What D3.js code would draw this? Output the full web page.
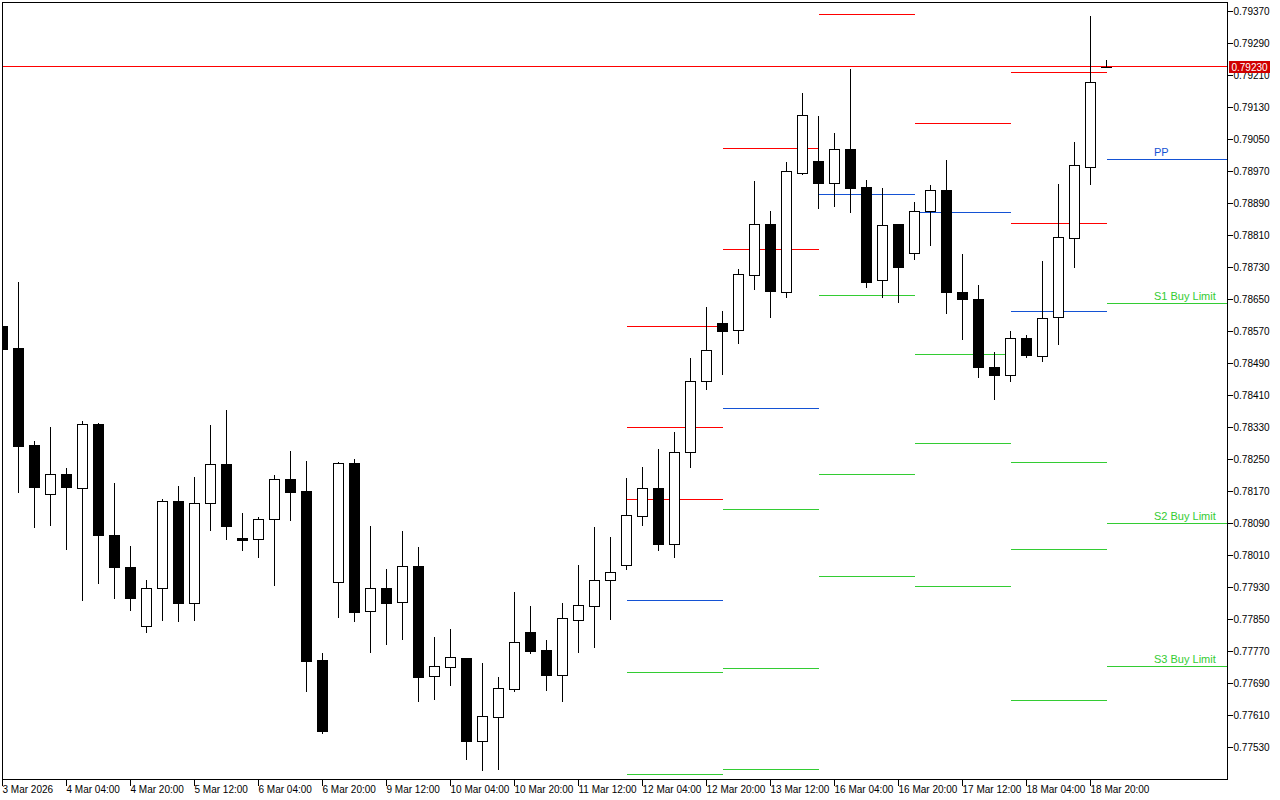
<!DOCTYPE html>
<html><head><meta charset="utf-8">
<script src="https://cdn.jsdelivr.net/npm/d3@7"></script>
<style>
html,body{margin:0;padding:0;background:#fff;}
svg{display:block;}
text{font-family:"Liberation Sans",Arial,sans-serif;}
</style></head>
<body>
<svg id="chart" width="1280" height="800"></svg>
<script>
// ---- DATA (H4 bars, index 0 = 3 Mar 2026 12:00) ----
const openP  = [0.78583,0.78528,0.78285,0.78163,0.78213,0.78178,0.78338,0.78060,0.77980,0.77833,
                0.77928,0.78145,0.77890,0.78140,0.78238,0.78052,0.78050,0.78100,0.78200,0.78170,
                0.77748,0.77943,0.78240,0.77870,0.77928,0.77893,0.77983,0.77708,0.77730,0.77753,
                0.77545,0.77605,0.77675,0.77818,0.77773,0.77710,0.77848,0.77883,0.77948,0.77985,
                0.78108,0.78178,0.78038,0.78268,0.78445,0.78590,0.78573,0.78710,0.78838,0.78668,
                0.78965,0.78995,0.78940,0.79025,0.78930,0.78698,0.78838,0.78765,0.78870,0.78923,
                0.78668,0.78650,0.78480,0.78460,0.78553,0.78508,0.78605,0.78803,0.78980,0.79231];
const highP  = [0.78598,0.78693,0.78295,0.78330,0.78228,0.78345,0.78340,0.78190,0.78033,0.77948,
                0.78150,0.78183,0.78205,0.78335,0.78373,0.78115,0.78105,0.78210,0.78270,0.78245,
                0.77765,0.78243,0.78250,0.78083,0.77975,0.78070,0.78030,0.77805,0.77825,0.77753,
                0.77740,0.77705,0.77918,0.77883,0.77798,0.77890,0.77985,0.78080,0.78055,0.78203,
                0.78230,0.78275,0.78318,0.78503,0.78630,0.78620,0.78725,0.78945,0.78870,0.78993,
                0.79165,0.79108,0.79065,0.79225,0.78948,0.78928,0.78838,0.78893,0.78935,0.78998,
                0.78763,0.78685,0.78518,0.78570,0.78560,0.78745,0.78938,0.79043,0.79358,0.79248];
const lowP   = [0.78518,0.78168,0.78080,0.78085,0.78025,0.77898,0.77940,0.77903,0.77873,0.77818,
                0.77848,0.77845,0.77848,0.78073,0.78050,0.78023,0.78005,0.77935,0.78098,0.77670,
                0.77565,0.77855,0.77845,0.77768,0.77788,0.77800,0.77645,0.77650,0.77685,0.77500,
                0.77473,0.77475,0.77670,0.77765,0.77673,0.77645,0.77768,0.77780,0.77850,0.77975,
                0.78085,0.78023,0.78005,0.78230,0.78425,0.78463,0.78540,0.78675,0.78605,0.78655,
                0.78963,0.78878,0.78883,0.78868,0.78680,0.78655,0.78643,0.78750,0.78785,0.78615,
                0.78550,0.78455,0.78400,0.78445,0.78505,0.78495,0.78538,0.78730,0.78938,0.79230];
const closeP = [0.78525,0.78283,0.78180,0.78213,0.78180,0.78338,0.78060,0.77980,0.77903,0.77928,
                0.78145,0.77890,0.78140,0.78238,0.78083,0.78048,0.78100,0.78200,0.78168,0.77745,
                0.77570,0.78240,0.77868,0.77928,0.77890,0.77983,0.77705,0.77733,0.77755,0.77545,
                0.77608,0.77678,0.77793,0.77770,0.77710,0.77853,0.77885,0.77948,0.77968,0.78110,
                0.78178,0.78038,0.78268,0.78445,0.78523,0.78570,0.78713,0.78838,0.78670,0.78970,
                0.79110,0.78940,0.79025,0.78928,0.78693,0.78835,0.78730,0.78870,0.78923,0.78668,
                0.78650,0.78480,0.78460,0.78553,0.78510,0.78603,0.78805,0.78985,0.79193,0.79230];

// x-axis tick labels (every 4th H4 bar)
const xTickIndex  = [0,4,8,12,16,20,24,28,32,36,40,44,48,52,56,60,64,68];
const xTickLabels = ["3 Mar 2026","4 Mar 04:00","4 Mar 20:00","5 Mar 12:00","6 Mar 04:00","6 Mar 20:00",
                     "9 Mar 12:00","10 Mar 04:00","10 Mar 20:00","11 Mar 12:00","12 Mar 04:00","12 Mar 20:00",
                     "13 Mar 12:00","16 Mar 04:00","16 Mar 20:00","17 Mar 12:00","18 Mar 04:00","18 Mar 20:00"];
// price axis ticks
const yTicks = [0.77530,0.77610,0.77690,0.77770,0.77850,0.77930,0.78010,0.78090,0.78170,0.78250,0.78330,0.78410,
                0.78490,0.78570,0.78650,0.78730,0.78810,0.78890,0.78970,0.79050,0.79130,0.79210,0.79290,0.79370];

// daily pivot levels (start bar of each day: 12,13,16,17,18,19 Mar); null = off screen
const pivotDayStart = [39, 45, 51, 57, 63, 69];
const pivotR3 = [0.78582, null,    null,    null,    null,    null];
const pivotR2 = [0.78330, 0.79027, null,    null,    0.79217, null];
const pivotR1 = [0.78150, 0.78775, 0.79362, 0.79090, 0.78840, null];
const pivotPP = [0.77897, 0.78377, 0.78912, 0.78867, 0.78620, 0.79000];
const pivotS1 = [0.77717, 0.78125, 0.78660, 0.78512, 0.78242, 0.78640];
const pivotS2 = [0.77462, 0.77727, 0.78212, 0.78290, 0.78025, 0.78090];
const pivotS3 = [null,    0.77475, 0.77957, 0.77932, 0.77647, 0.77732];
const currentLabels = ["PP","S1 Buy Limit","S2 Buy Limit","S3 Buy Limit"];
const currentPrice = 0.79230;

// ---- CHART ----
const svg = d3.select("#chart");
const L = 2, T = 2, R = 1227, B = 779;
const RED = "#ff0000", BLUE = "#1452d4", GREEN = "#33cc33";

const x = d3.scaleLinear().domain([0, 69]).range([2.5, 1106.5]);
const y = d3.scaleLinear().domain([0.79370, 0.77530]).range([11, 747]);
const py = p => Math.round(y(p));

svg.append("rect").attr("width",1280).attr("height",800).attr("fill","#fff");
svg.append("defs").append("clipPath").attr("id","plot")
  .append("rect").attr("x",L+1).attr("y",T+1).attr("width",R-L-1).attr("height",B-T-1);
const plot = svg.append("g").attr("clip-path","url(#plot)").attr("shape-rendering","crispEdges");

// pivot lines
const levels = [[pivotR3,RED],[pivotR2,RED],[pivotR1,RED],[pivotPP,BLUE],[pivotS1,GREEN],[pivotS2,GREEN],[pivotS3,GREEN]];
levels.forEach(([arr,col]) => {
  arr.forEach((v,i) => {
    if (v == null) return;
    const x0 = x(pivotDayStart[i]);
    const x1 = i < pivotDayStart.length-1 ? x(pivotDayStart[i+1]) : R;
    plot.append("line").attr("x1",x0).attr("x2",x1)
      .attr("y1",py(v)+0.5).attr("y2",py(v)+0.5)
      .attr("stroke",col).attr("stroke-width",1);
  });
});

// current price line (the terminal draws it on the pixel row just above)
const cpY = Math.ceil(y(currentPrice)) - 1;
plot.append("line").attr("x1",L).attr("x2",R)
  .attr("y1",cpY+0.5).attr("y2",cpY+0.5)
  .attr("stroke",RED).attr("stroke-width",1);

// candles
const idx = d3.range(openP.length);
const cg = plot.append("g");
idx.forEach(i => {
  const cx = Math.floor(x(i));
  const o = openP[i], c = closeP[i];
  const up = c > o;
  cg.append("line").attr("x1",cx+0.5).attr("x2",cx+0.5)
    .attr("y1",py(highP[i])).attr("y2",py(lowP[i])+1)
    .attr("stroke","#000").attr("stroke-width",1);
  const top = py(Math.max(o,c)), bot = py(Math.min(o,c));
  if (up) {
    cg.append("rect").attr("x",cx-4.5).attr("y",top+0.5).attr("width",10).attr("height",Math.max(1,bot-top))
      .attr("fill","#fff").attr("stroke","#000").attr("stroke-width",1);
  } else {
    cg.append("rect").attr("x",cx-5).attr("y",top).attr("width",11).attr("height",Math.max(1,bot-top+1))
      .attr("fill","#000");
  }
});

// labels for current day levels
const curVals = [pivotPP[5], pivotS1[5], pivotS2[5], pivotS3[5]];
curVals.forEach((v,i) => {
  svg.append("text").attr("x",1154).attr("y",py(v)-3)
    .attr("font-size","11px").attr("fill", i===0 ? BLUE : GREEN)
    .text(currentLabels[i]);
});

// frame
svg.append("rect").attr("x",L+0.5).attr("y",T+0.5).attr("width",R-L).attr("height",B-T)
  .attr("fill","none").attr("stroke","#000").attr("stroke-width",1).attr("shape-rendering","crispEdges");

// right axis
const yAxis = d3.axisRight(y).tickValues(yTicks).tickFormat(d3.format(".5f")).tickSize(5).tickPadding(1);
const ya = svg.append("g").attr("transform",`translate(${R+0.5},0)`).call(yAxis);
ya.select(".domain").remove();
ya.selectAll(".tick").attr("transform", d => `translate(0,${py(d)+0.5})`);
ya.selectAll(".tick line").attr("stroke","#000").attr("shape-rendering","crispEdges");
ya.selectAll(".tick text").attr("font-size","10px").attr("fill","#000")
  .attr("font-family","'Liberation Sans',Arial,sans-serif");

// bottom axis
const xAxis = d3.axisBottom(x).tickValues(xTickIndex).tickFormat((d,i)=>xTickLabels[i]).tickSize(6);
const xa = svg.append("g").attr("transform",`translate(0,${B+0.5})`).call(xAxis);
xa.select(".domain").remove();
xa.selectAll(".tick").attr("transform", d => `translate(${Math.floor(x(d))+0.5},0)`);
xa.selectAll(".tick line").attr("stroke","#000").attr("shape-rendering","crispEdges");
xa.selectAll(".tick text").attr("text-anchor","start").attr("x",0).attr("y",6).attr("dy","0.71em")
  .attr("font-size","10px").attr("fill","#000").attr("font-family","'Liberation Sans',Arial,sans-serif");

// current price tag (drawn over the axis labels, as in the terminal)
svg.append("rect").attr("x",1229).attr("y",cpY-5).attr("width",41).attr("height",12).attr("fill","#d00000");
svg.append("text").attr("x",1249.5).attr("y",cpY+5).attr("text-anchor","middle")
  .attr("font-size","10px").attr("fill","#fff").text(d3.format(".5f")(currentPrice));
</script>
</body></html>
